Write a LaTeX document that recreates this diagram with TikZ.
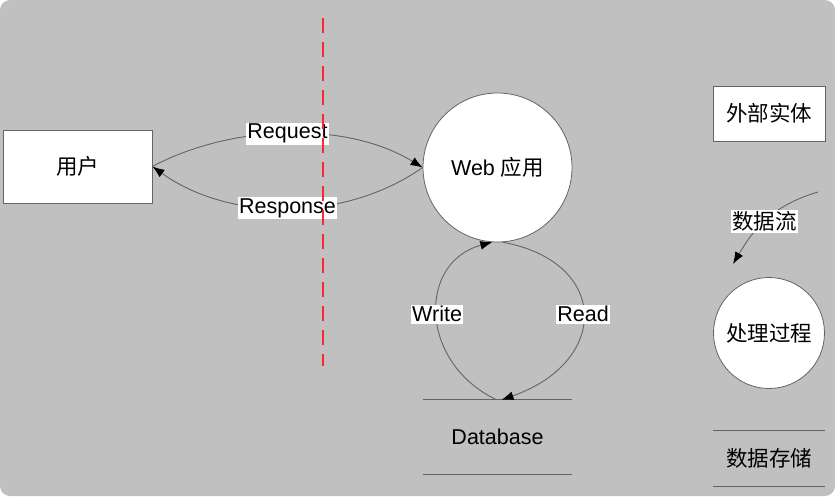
\documentclass[tikz,border=0pt]{standalone}
\usepackage{fontspec}
\setmainfont{Liberation Sans}
\newfontfamily\cjk{Noto Sans CJK SC}
\usetikzlibrary{arrows.meta}
\definecolor{bggray}{RGB}{192,192,192}
\definecolor{linegray}{RGB}{100,100,100}
\definecolor{cutred}{RGB}{250,40,50}
\tikzset{
  entity/.style={draw=linegray,fill=white,line width=0.8pt},
  process/.style={circle,draw=linegray,fill=white,line width=0.8pt,inner sep=0pt},
  store/.style={inner sep=0pt},
  flow/.style={draw=linegray,line width=0.9pt,-{Latex[length=12pt,width=9pt,color=black]}},
  lbl/.style={fill=white,inner sep=1.5pt},
  storeline/.style={draw=linegray,line width=0.9pt}
}
\begin{document}
\begin{tikzpicture}[x=1pt,y=-1pt,font=\fontsize{21.5}{25}\selectfont]
\useasboundingbox (0,0) rectangle (835,496);
\fill[bggray,rounded corners=10pt] (0,0) rectangle (835,496);
\node[entity,minimum width=149pt,minimum height=73pt] (user) at (77.5,166.5) {\cjk 用户};
\node[process,minimum size=149pt] (web) at (497.5,167.5) {Web {\cjk 应用}};
\node[store,minimum width=149pt,minimum height=74pt] (db) at (497.5,437) {Database};
\draw[storeline] (db.north west)--(db.north east);
\draw[storeline] (db.south west)--(db.south east);
\draw[flow] (user.east) .. controls (230,125) and (345,120) .. (web.west) node[midway,lbl]{Request};
\draw[flow] (web.west) .. controls (345,222) and (230,222) .. (user.east) node[midway,lbl]{Response};
\draw[flow] ([xshift=-1pt]db.north) .. controls (418,362) and (418,262) .. (web.-94) node[midway,lbl]{Write};
\draw[flow] (web.-86) .. controls (610,262) and (610,362) .. ([xshift=4pt]db.north) node[midway,lbl]{Read};
\node[entity,minimum width=112pt,minimum height=55pt] (ext) at (769,113.5) {\cjk 外部实体};
\coordinate (dfa) at (818,192);
\coordinate (dfb) at (733,264);
\draw[flow] (dfa) .. controls (770,206) and (752,232) .. (dfb) node[midway,lbl]{\cjk 数据流};
\node[process,minimum size=111pt] (proc) at (769,333) {\cjk 处理过程};
\node[store,minimum width=112pt,minimum height=55pt] (ds) at (769,458.5) {\cjk 数据存储};
\draw[storeline] (ds.north west)--(ds.north east);
\draw[storeline] (ds.south west)--(ds.south east);
\draw[cutred,line width=2pt,dash pattern=on 15pt off 9pt] (323,18)--(323,366);
\end{tikzpicture}
\end{document}
